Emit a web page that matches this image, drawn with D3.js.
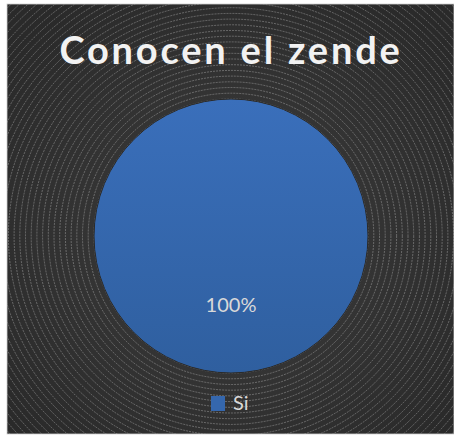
<!DOCTYPE html>
<html>
<head>
<meta charset="utf-8">
<script src="https://cdn.jsdelivr.net/npm/d3@7"></script>
<style>
  html, body { margin: 0; padding: 0; background: #ffffff; }
  svg { display: block; }
</style>
</head>
<body>
<div id="chart"></div>
<script>
// data
var categories = ["Si"];
var values = [100];
var labels = ["100%"];
var colors = ["#3567ad"];
var titleText = "Conocen el zende";

var W = 454, H = 438;

var svg = d3.select("#chart").append("svg")
    .attr("width", W)
    .attr("height", H);

var defs = svg.append("defs");

// dark backdrop, a bit lighter in the middle
var bg = defs.append("radialGradient")
    .attr("id", "bgGrad")
    .attr("cx", "50%").attr("cy", "54%").attr("r", "65%");
bg.append("stop").attr("offset", "0%").attr("stop-color", "#3d3d3d");
bg.append("stop").attr("offset", "100%").attr("stop-color", "#2a2a2a");

var pieGrad = defs.append("linearGradient")
    .attr("id", "pieGrad")
    .attr("x1", 0).attr("y1", 0).attr("x2", 0).attr("y2", 1);
pieGrad.append("stop").attr("offset", "0%").attr("stop-color", "#3a6fbb");
pieGrad.append("stop").attr("offset", "100%").attr("stop-color", "#2f5f9f");

defs.append("clipPath").attr("id", "areaClip")
  .append("rect")
    .attr("x", 7).attr("y", 4)
    .attr("width", W - 7).attr("height", 430);

// chart area
svg.append("rect")
    .attr("x", 7).attr("y", 4)
    .attr("width", W - 7).attr("height", 430)
    .attr("fill", "url(#bgGrad)")
    .attr("stroke", "#d0d0d0")
    .attr("stroke-width", 0.8);

// concentric ring texture
var cx = 231, cy = 236;
svg.append("g")
    .attr("clip-path", "url(#areaClip)")
  .selectAll("circle")
  .data(d3.range(6, 360, 5.7))
  .enter().append("circle")
    .attr("cx", cx)
    .attr("cy", cy)
    .attr("r", d => d)
    .attr("fill", "none")
    .attr("stroke", "#a8a8a8")
    .attr("stroke-opacity", 0.6)
    .attr("stroke-width", 0.8)
    .attr("stroke-dasharray", "2,1");

// title
svg.append("text")
    .attr("x", 231)
    .attr("y", 64)
    .attr("text-anchor", "middle")
    .attr("font-family", "Lato, 'Open Sans', sans-serif")
    .attr("font-weight", "bold")
    .attr("font-size", 38)
    .attr("letter-spacing", 2.8)
    .attr("fill", "#f2f2f2")
    .text(titleText);

// pie
var radius = 137;
var pie = d3.pie().sort(null).value(d => d);
var arc = d3.arc().innerRadius(0).outerRadius(radius);
var labelArc = d3.arc().innerRadius(radius * 0.55).outerRadius(radius * 0.55);

var g = svg.append("g")
    .attr("transform", "translate(" + cx + "," + cy + ")");

var slices = g.selectAll(".slice")
    .data(pie(values))
    .enter().append("g")
    .attr("class", "slice");

slices.append("path")
    .attr("d", arc)
    .attr("fill", "url(#pieGrad)")
    .attr("stroke", "#2a2a2a")
    .attr("stroke-width", 1);

slices.append("text")
    .attr("x", 0)
    .attr("y", (d, i) => values[i] === 100 ? 76 : labelArc.centroid(d)[1] + 7)
    .attr("text-anchor", "middle")
    .attr("font-family", "Lato, 'Open Sans', sans-serif")
    .attr("font-size", 20)
    .attr("fill", "#d9d9d9")
    .text((d, i) => labels[i]);

// legend
var legend = svg.append("g")
    .attr("transform", "translate(211,396)");

var items = legend.selectAll(".item")
    .data(categories)
    .enter().append("g")
    .attr("class", "item");

items.append("rect")
    .attr("width", 14).attr("height", 15)
    .attr("fill", (d, i) => colors[i]);

items.append("text")
    .attr("x", 22)
    .attr("y", 14)
    .attr("font-family", "Lato, 'Open Sans', sans-serif")
    .attr("font-size", 20)
    .attr("fill", "#d9d9d9")
    .text(d => d);
</script>
</body>
</html>
